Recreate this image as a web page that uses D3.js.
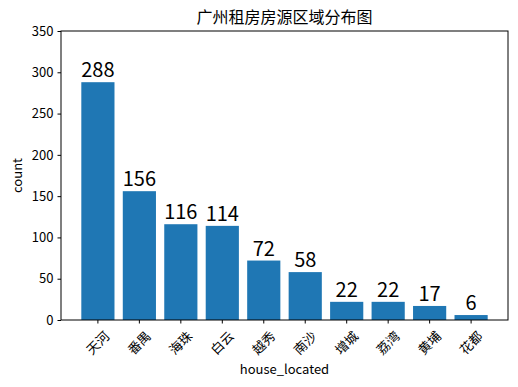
<!DOCTYPE html>
<html>
<head>
  <meta charset="utf-8">
  <script src="https://cdnjs.cloudflare.com/ajax/libs/d3/7.8.5/d3.min.js"></script>
  <style>
    body { margin: 0; background: #fff; }
    svg text { font-family: "Noto Sans CJK SC", "Noto Sans", sans-serif; fill: #000; }
  </style>
</head>
<body>
  <svg id="chart" width="518" height="387"></svg>
  <script>
    // data
    var districts = ["天河", "番禺", "海珠", "白云", "越秀", "南沙", "增城", "荔湾", "黄埔", "花都"];
    var counts = [288, 156, 116, 114, 72, 58, 22, 22, 17, 6];
    var yTicks = [0, 50, 100, 150, 200, 250, 300, 350];

    var margin = {top: 31, right: 10, bottom: 67, left: 61};
    var width = 518 - margin.left - margin.right,
        height = 387 - margin.top - margin.bottom;

    var svg = d3.select("#chart");
    var g = svg.append("g").attr("transform", "translate(" + margin.left + "," + margin.top + ")");

    var x = d3.scaleBand()
      .domain(districts)
      .range([0, width])
      .paddingInner(0.2)
      .paddingOuter(0.49);

    var y = d3.scaleLinear()
      .domain([0, 350])
      .range([height, 0]);

    // bars
    g.selectAll("rect.bar")
      .data(districts)
      .enter()
      .append("rect")
      .attr("class", "bar")
      .attr("x", d => x(d))
      .attr("width", x.bandwidth())
      .attr("y", (d, i) => y(counts[i]))
      .attr("height", (d, i) => height - y(counts[i]))
      .style("fill", "#1f77b4");

    // value labels
    g.selectAll("text.val")
      .data(districts)
      .enter()
      .append("text")
      .attr("class", "val")
      .attr("x", d => x(d) + x.bandwidth() / 2)
      .attr("y", (d, i) => y(counts[i]) - 5)
      .attr("text-anchor", "middle")
      .style("font-size", "20px")
      .text((d, i) => counts[i]);

    // y axis
    var yAxis = g.append("g")
      .call(d3.axisLeft(y).tickValues(yTicks).tickSize(3.5).tickPadding(4));
    yAxis.select(".domain").remove();
    yAxis.selectAll("text").style("font-size", "13px");

    // x axis
    var xAxis = g.append("g")
      .attr("transform", "translate(0," + height + ")")
      .call(d3.axisBottom(x).tickSize(3.5));
    xAxis.select(".domain").remove();
    xAxis.selectAll("text")
      .style("font-size", "13px")
      .attr("text-anchor", "middle")
      .attr("y", 0)
      .attr("dy", "0.35em")
      .attr("transform", "translate(0,23) rotate(-45)");

    // frame
    g.append("rect")
      .attr("width", width)
      .attr("height", height)
      .style("fill", "none")
      .style("stroke", "#000")
      .style("stroke-width", 1);

    // title and axis labels
    svg.append("text")
      .attr("x", margin.left + width / 2)
      .attr("y", 23)
      .attr("text-anchor", "middle")
      .style("font-size", "16px")
      .text("广州租房房源区域分布图");

    svg.append("text")
      .attr("x", margin.left + width / 2)
      .attr("y", 374)
      .attr("text-anchor", "middle")
      .style("font-size", "13px")
      .text("house_located");

    svg.append("text")
      .attr("transform", "translate(22," + (margin.top + height / 2) + ") rotate(-90)")
      .attr("text-anchor", "middle")
      .style("font-size", "13px")
      .text("count");
  </script>
</body>
</html>
